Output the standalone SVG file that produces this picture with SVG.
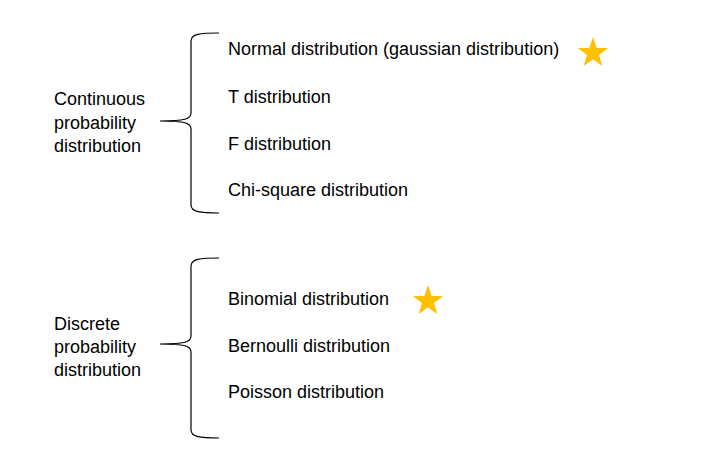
<svg xmlns="http://www.w3.org/2000/svg" width="721" height="473" viewBox="0 0 721 473">
<style>
text{font-family:"Liberation Sans",Arial,sans-serif;font-size:18px;fill:#000}
.brace{fill:none;stroke:#000;stroke-width:1.2}
.star{fill:#FFC000}
</style>
<defs>
<polygon id="star" class="star" points="0,-16 3.7,-5.1 15.2,-4.9 6,2 9.4,12.9 0,6.3 -9.4,12.9 -6,2 -15.2,-4.9 -3.7,-5.1"/>
</defs>
<rect width="721" height="473" fill="#fff"/>
<g id="connectors">
<path class="brace" d="M219,33 C200,33 191,34 191,41 L191,113 C191,119 185,121 160,121 C185,121 191,123 191,129 L191,205 C191,212 200,213 219,213"/>
<path class="brace" d="M219,258 C200,258 191,259 191,266 L191,336 C191,342 185,344 160,344 C185,344 191,346 191,352 L191,430 C191,437 200,438 219,438"/>
</g>
<g id="continuous">
<text x="54" y="105">Continuous</text>
<text x="54" y="129">probability</text>
<text x="54" y="152">distribution</text>
</g>
<g id="normal"><text x="228" y="55">Normal distribution (gaussian distribution)</text></g>
<g id="t"><text x="228" y="103">T distribution</text></g>
<g id="f"><text x="228" y="150">F distribution</text></g>
<g id="chi"><text x="228" y="196">Chi-square distribution</text></g>
<g id="star1"><use href="#star" x="593" y="53"/></g>
<g id="discrete">
<text x="54" y="330">Discrete</text>
<text x="54" y="353">probability</text>
<text x="54" y="376">distribution</text>
</g>
<g id="binomial"><text x="228" y="305">Binomial distribution</text></g>
<g id="bernoulli"><text x="228" y="352">Bernoulli distribution</text></g>
<g id="poisson"><text x="228" y="398">Poisson distribution</text></g>
<g id="star2"><use href="#star" x="428" y="301"/></g>
</svg>
